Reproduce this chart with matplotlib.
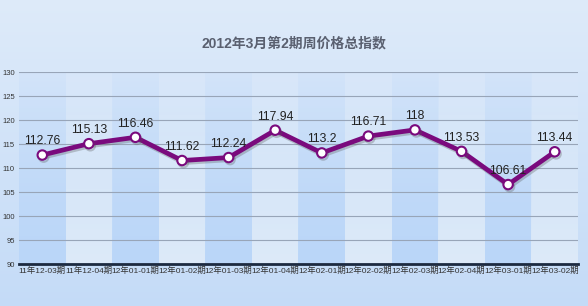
import numpy as np
import matplotlib
matplotlib.use("Agg")
import matplotlib.pyplot as plt
import matplotlib.patheffects as pe

plt.rcParams['font.family'] = ['Liberation Sans', 'Noto Sans CJK SC', 'DejaVu Sans']

periods = ["11年12-03期", "11年12-04期", "12年01-01期", "12年01-02期", "12年01-03期", "12年01-04期",
           "12年02-01期", "12年02-02期", "12年02-03期", "12年02-04期", "12年03-01期", "12年03-02期"]
index_values = [112.76, 115.13, 116.46, 111.62, 112.24, 117.94, 113.2, 116.71, 118, 113.53, 106.61, 113.44]
yticks = [90, 95, 100, 105, 110, 115, 120, 125, 130]

fig = plt.figure(figsize=(5.88, 3.06), dpi=100)

# background gradient
bg = fig.add_axes([0, 0, 1, 1], zorder=-10)
grad = np.linspace(0, 1, 256).reshape(-1, 1)
top = np.array([0.87, 0.92, 0.98])
bot = np.array([0.77, 0.86, 0.97])
img = top[None, None, :] * (1 - grad[:, :, None]) + bot[None, None, :] * grad[:, :, None]
bg.imshow(img, aspect="auto", extent=[0, 1, 0, 1])
bg.axis("off")

ax = fig.add_axes([0.0323, 0.1363, 0.9507, 0.6274])
ax.patch.set_alpha(0)
x = np.arange(len(periods))
ax.set_xlim(-0.5, len(periods) - 0.5)
ax.set_ylim(90, 130)

# alternating column bands, fading toward top
fade = np.linspace(1, 0.15, 128).reshape(-1, 1)
for i in x:
    c = np.array([0.73, 0.84, 0.98]) if i % 2 == 0 else np.array([0.87, 0.92, 0.98])
    rgba = np.zeros((128, 1, 4))
    rgba[..., :3] = c
    rgba[..., 3] = fade
    ax.imshow(rgba, aspect="auto", extent=[i - 0.5, i + 0.5, 90, 130], origin="lower", zorder=0)

ax.set_yticks(yticks)
ax.grid(axis="y", color="#98a5b8", linewidth=0.8, zorder=1)
ax.tick_params(axis="y", length=0, labelsize=5.5, labelcolor="#333333", pad=3)
ax.set_xticks(x)
ax.set_xticklabels(periods, fontsize=6.0, color="#333333")
ax.tick_params(axis="x", length=0, pad=2)
for s in ["top", "right", "left"]:
    ax.spines[s].set_visible(False)
ax.spines["bottom"].set_color("#1c2a40")
ax.spines["bottom"].set_linewidth(2)

ax.plot(x, index_values, color="#7a0a7d", linewidth=3.4, zorder=3,
        marker="o", markersize=6.8, markerfacecolor="white", markeredgecolor="#7a0a7d",
        markeredgewidth=1.5, solid_joinstyle="round",
        path_effects=[pe.SimpleLineShadow(offset=(1, -1.5), shadow_color="#555555", alpha=0.3), pe.Normal()])

for xi, v in zip(x, index_values):
    ax.annotate(f"{v:g}", (xi, v), xytext=(0, 5.5), textcoords="offset points",
                ha="center", va="bottom", fontsize=8.8, color="#222222", zorder=4)

fig.text(0.5, 0.859, "2012年3月第2期周价格总指数", ha="center", va="center",
         fontsize=10, fontweight="bold", color="#5a6070")

fig.savefig("out.png", dpi=100)
